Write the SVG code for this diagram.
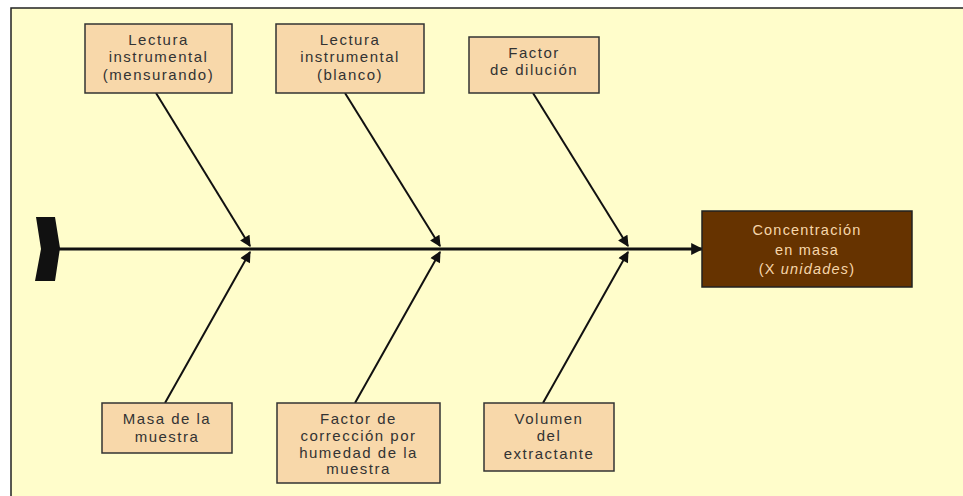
<svg xmlns="http://www.w3.org/2000/svg" width="963" height="496" viewBox="0 0 963 496">
  <style>
    .cause rect { fill: #F8D8AA; stroke: #333; stroke-width: 1.5; }
    .cause text { font-family: "Liberation Sans", Arial, sans-serif; font-size: 15px; fill: #333; text-anchor: middle; letter-spacing: 1.5px; }
    .effect rect { fill: #663300; stroke: #222; stroke-width: 1.5; }
    .effect text { font-family: "Liberation Sans", Arial, sans-serif; font-size: 14.5px; fill: #F6D6AA; text-anchor: middle; letter-spacing: 1.2px; }
    .bone { stroke: #111; stroke-width: 2; fill: none; }
    .spine { stroke: #111; stroke-width: 3; fill: none; }
  </style>
  <defs>
    <marker id="head" viewBox="0 0 10 10" refX="9" refY="5" markerWidth="6" markerHeight="5.5" orient="auto" markerUnits="strokeWidth">
      <path d="M0,0 L10,5 L0,10 z" fill="#111"/>
    </marker>
    <marker id="spineHead" viewBox="0 0 10 10" refX="9" refY="5" markerWidth="4.5" markerHeight="4" orient="auto" markerUnits="strokeWidth">
      <path d="M0,0 L10,5 L0,10 z" fill="#111"/>
    </marker>
  </defs>

  <!-- page and frame -->
  <rect x="0" y="0" width="963" height="496" fill="#FFFFFF"/>
  <rect x="11" y="8" width="960" height="500" fill="#FFFDCB" stroke="#222" stroke-width="1.5"/>

  <!-- connectors: spine, tail and bones -->
  <g id="connectors">
    <path d="M36,217 L55,217 L60,248 L55,281 L35,281 L41,249 Z" fill="#111"/>
    <line class="spine" x1="58" y1="249" x2="702" y2="249" marker-end="url(#spineHead)"/>
    <line class="bone" x1="156" y1="93" x2="250" y2="246" marker-end="url(#head)"/>
    <line class="bone" x1="345" y1="93" x2="440" y2="246" marker-end="url(#head)"/>
    <line class="bone" x1="533" y1="93" x2="628" y2="246" marker-end="url(#head)"/>
    <line class="bone" x1="165" y1="403" x2="250" y2="252" marker-end="url(#head)"/>
    <line class="bone" x1="355" y1="403" x2="440" y2="252" marker-end="url(#head)"/>
    <line class="bone" x1="543" y1="403" x2="628" y2="252" marker-end="url(#head)"/>
  </g>

  <g id="lectura-mensurando" class="cause">
    <rect x="85" y="24" width="147" height="69"/>
    <text x="158.5" y="45">Lectura</text>
    <text x="158.5" y="62">instrumental</text>
    <text x="158.5" y="80">(mensurando)</text>
  </g>

  <g id="lectura-blanco" class="cause">
    <rect x="276" y="24" width="148" height="69"/>
    <text x="350" y="45">Lectura</text>
    <text x="350" y="62">instrumental</text>
    <text x="350" y="80">(blanco)</text>
  </g>

  <g id="factor-dilucion" class="cause">
    <rect x="469" y="37" width="130" height="56"/>
    <text x="534" y="58">Factor</text>
    <text x="534" y="75">de dilución</text>
  </g>

  <g id="masa-muestra" class="cause">
    <rect x="102" y="403" width="130" height="50"/>
    <text x="167" y="424">Masa de la</text>
    <text x="167" y="442">muestra</text>
  </g>

  <g id="factor-humedad" class="cause">
    <rect x="277" y="403" width="163" height="80"/>
    <text x="358.5" y="424">Factor de</text>
    <text x="358.5" y="441">corrección por</text>
    <text x="358.5" y="458">humedad de la</text>
    <text x="358.5" y="474">muestra</text>
  </g>

  <g id="volumen-extractante" class="cause">
    <rect x="484" y="403" width="130" height="68"/>
    <text x="549" y="424">Volumen</text>
    <text x="549" y="441">del</text>
    <text x="549" y="459">extractante</text>
  </g>

  <g id="concentracion" class="effect">
    <rect x="702" y="211" width="210" height="76"/>
    <text x="807" y="235">Concentración</text>
    <text x="807" y="255">en masa</text>
    <text x="807" y="274">(X <tspan font-style="italic">unidades</tspan>)</text>
  </g>
</svg>
